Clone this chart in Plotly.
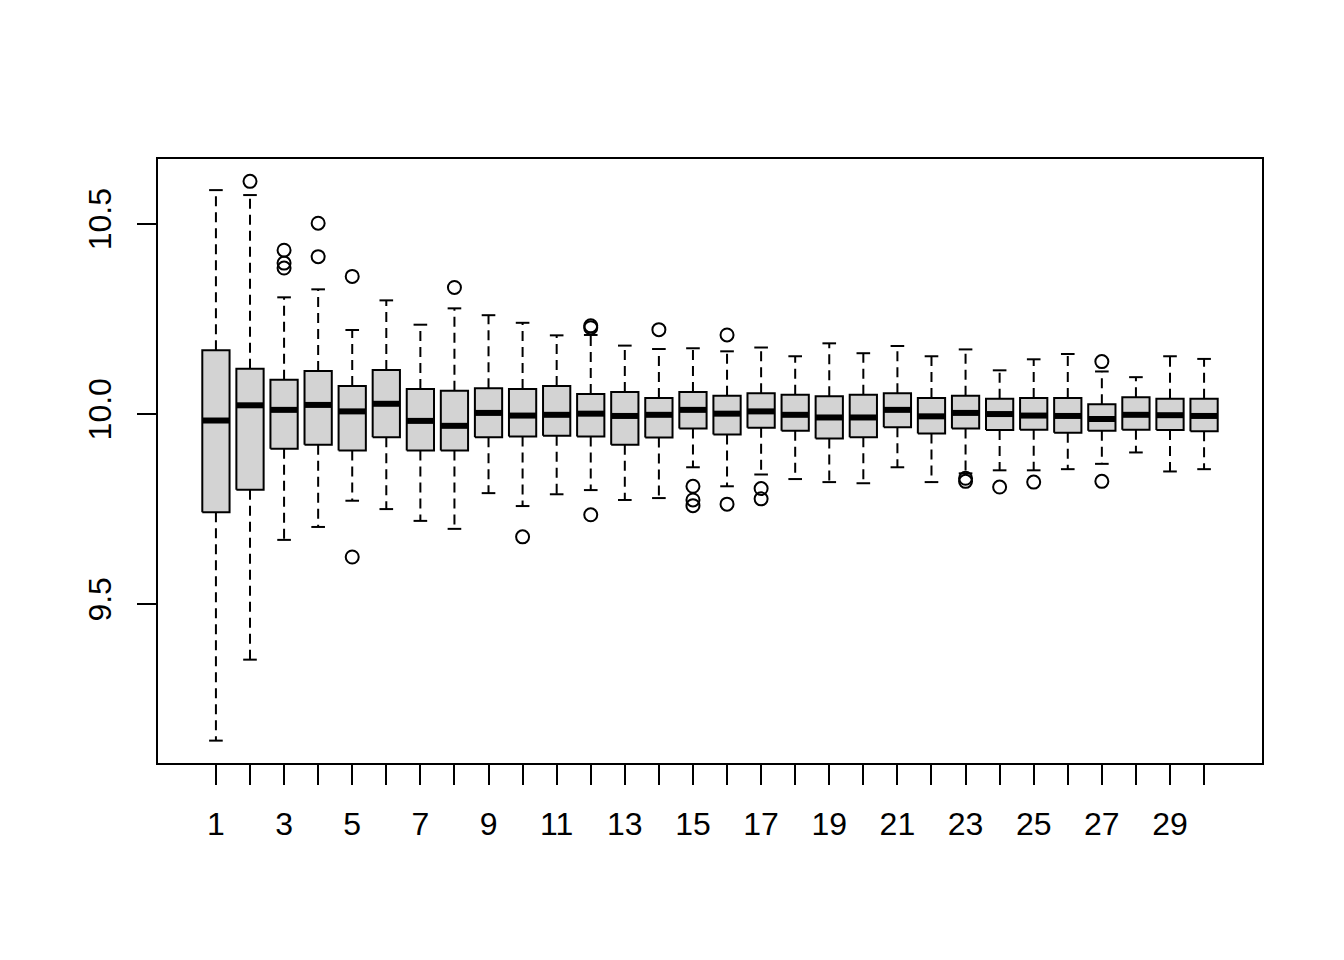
import plotly.graph_objects as go

categories = list(range(1, 31))
q1 = [9.742, 9.801, 9.909, 9.919, 9.904, 9.939, 9.904, 9.904, 9.939, 9.941,
      9.943, 9.941, 9.919, 9.938, 9.962, 9.946, 9.964, 9.956, 9.936, 9.939,
      9.965, 9.949, 9.962, 9.958, 9.959, 9.951, 9.956, 9.959, 9.958, 9.955]
median = [9.983, 10.023, 10.011, 10.024, 10.007, 10.027, 9.982, 9.969, 10.003, 9.996,
          9.998, 10.001, 9.995, 9.998, 10.011, 10.001, 10.007, 9.998, 9.991, 9.991,
          10.011, 9.994, 10.003, 10.000, 9.996, 9.995, 9.987, 9.998, 9.997, 9.995]
q3 = [10.168, 10.119, 10.090, 10.113, 10.074, 10.116, 10.066, 10.061, 10.068, 10.066,
      10.074, 10.053, 10.058, 10.042, 10.058, 10.048, 10.055, 10.051, 10.047, 10.051,
      10.055, 10.042, 10.048, 10.040, 10.042, 10.042, 10.026, 10.044, 10.040, 10.040]
lower_whisker = [9.141, 9.354, 9.669, 9.703, 9.772, 9.750, 9.719, 9.698, 9.792, 9.758,
                 9.789, 9.800, 9.774, 9.779, 9.860, 9.810, 9.841, 9.829, 9.821, 9.818,
                 9.860, 9.821, 9.844, 9.852, 9.852, 9.855, 9.869, 9.899, 9.849, 9.855]
upper_whisker = [10.589, 10.576, 10.307, 10.328, 10.221, 10.299, 10.235, 10.278, 10.260, 10.240,
                 10.207, 10.208, 10.180, 10.171, 10.173, 10.165, 10.175, 10.152, 10.186, 10.160,
                 10.179, 10.152, 10.170, 10.115, 10.144, 10.158, 10.112, 10.097, 10.152, 10.145]
outlier_group = [2, 3, 3, 3, 4, 4, 5, 5, 8, 10, 12, 12, 12, 14, 15, 15, 15, 16, 16,
                 17, 17, 23, 23, 24, 25, 27, 27]
outlier_value = [10.612, 10.431, 10.397, 10.384, 10.502, 10.414, 10.362, 9.624, 10.333, 9.677,
                 10.232, 10.227, 9.735, 10.222, 9.810, 9.774, 9.759, 10.208, 9.763,
                 9.804, 9.777, 9.831, 9.823, 9.808, 9.821, 10.138, 9.823]

ytick_vals = [9.5, 10.0, 10.5]
ytick_text = ["9.5", "10.0", "10.5"]

BOXW = 0.4   # half box width
CAPW = 0.2   # half staple width

wx, wy, cx, cy, bx, by, mx, my = [], [], [], [], [], [], [], []
for i, a, m, b, lo, hi in zip(categories, q1, median, q3, lower_whisker, upper_whisker):
    wx += [i, i, None, i, i, None]
    wy += [b, hi, None, a, lo, None]
    cx += [i - CAPW, i + CAPW, None, i - CAPW, i + CAPW, None]
    cy += [hi, hi, None, lo, lo, None]
    bx += [i - BOXW, i + BOXW, i + BOXW, i - BOXW, i - BOXW, None]
    by += [a, a, b, b, a, None]
    mx += [i - BOXW, i + BOXW, None]
    my += [m, m, None]

fig = go.Figure()
fig.add_trace(go.Scatter(x=wx, y=wy, mode="lines",
                         line=dict(color="black", width=2, dash="10px,6px"),
                         hoverinfo="skip", showlegend=False))
fig.add_trace(go.Scatter(x=cx, y=cy, mode="lines",
                         line=dict(color="black", width=2),
                         hoverinfo="skip", showlegend=False))
fig.add_trace(go.Scatter(x=bx, y=by, mode="lines", fill="toself",
                         fillcolor="#D3D3D3",
                         line=dict(color="black", width=2),
                         hoverinfo="skip", showlegend=False))
fig.add_trace(go.Scatter(x=mx, y=my, mode="lines",
                         line=dict(color="black", width=6),
                         hoverinfo="skip", showlegend=False))
fig.add_trace(go.Scatter(x=outlier_group, y=outlier_value, mode="markers",
                         marker=dict(symbol="circle-open", size=13, color="black",
                                     line=dict(width=2, color="black")),
                         showlegend=False))

allv = lower_whisker + upper_whisker + outlier_value
vmin, vmax = min(allv), max(allv)
pad = 0.04 * (vmax - vmin)
n = len(categories)
xpad = 0.04 * n

font = dict(family="Liberation Sans, Arial, sans-serif", size=32, color="black")

fig.update_layout(
    width=1344, height=960,
    margin=dict(l=150, r=90, t=151, b=205),
    paper_bgcolor="white", plot_bgcolor="white",
    font=font,
    showlegend=False,
    xaxis=dict(range=[0.5 - xpad, n + 0.5 + xpad],
               tickvals=categories,
               ticktext=[str(c) if c % 2 == 1 else "" for c in categories],
               ticks="outside", ticklen=20, tickwidth=2, tickcolor="black",
               showline=True, linecolor="black", linewidth=2, mirror=True,
               showgrid=False, zeroline=False, tickfont=font,
               ticklabelstandoff=12),
    yaxis=dict(range=[vmin - pad, vmax + pad],
               tickvals=ytick_vals, ticktext=ytick_text,
               tickangle=-90,
               ticks="outside", ticklen=19, tickwidth=2, tickcolor="black",
               showline=True, linecolor="black", linewidth=2, mirror=True,
               showgrid=False, zeroline=False, tickfont=font,
               ticklabelstandoff=13),
)

fig.write_html("out.html")
